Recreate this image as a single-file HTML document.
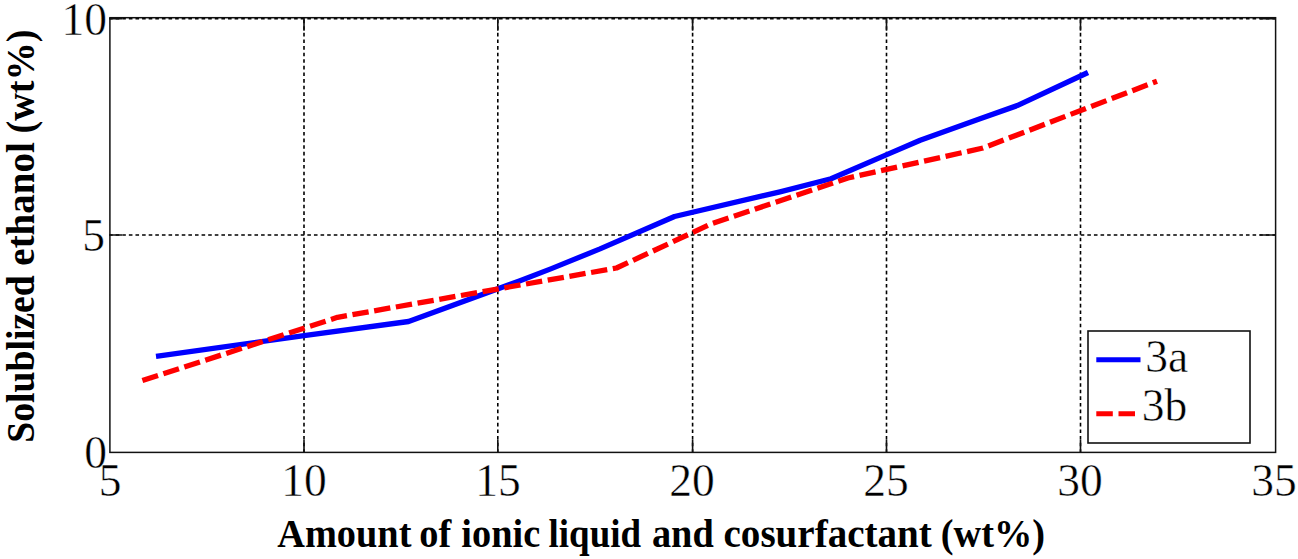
<!DOCTYPE html>
<html><head><meta charset="utf-8"><title>Chart</title>
<style>
html,body{margin:0;padding:0;background:#fff;}
body{width:1298px;height:559px;overflow:hidden;}
svg{display:block;}
text{font-family:"Liberation Serif", serif;fill:#000;}
.tk{font-size:45.5px;stroke:#fff;stroke-width:0.45px;paint-order:fill;}
.lab{font-size:40px;font-weight:bold;}
</style></head><body>
<svg width="1298" height="559" viewBox="0 0 1298 559">
<rect x="0" y="0" width="1298" height="559" fill="#fff"/>
<!-- grid -->
<g stroke="#000" stroke-width="1.6" stroke-dasharray="3.6 3.01" fill="none">
<line x1="304" y1="19.6" x2="304" y2="452.4"/>
<line x1="497.8" y1="19.6" x2="497.8" y2="452.4"/>
<line x1="692.6" y1="19.6" x2="692.6" y2="452.4"/>
<line x1="886.5" y1="19.6" x2="886.5" y2="452.4"/>
<line x1="1080.5" y1="19.6" x2="1080.5" y2="452.4"/>
<line x1="109.03" y1="235" x2="1275.6" y2="235"/>
<line x1="109.03" y1="18.8" x2="1275.6" y2="18.8"/>
</g>
<!-- ticks -->
<g stroke="#111" stroke-width="1.6" fill="none">
<path d="M304 452.4V440M497.8 452.4V440M692.6 452.4V440M886.5 452.4V440M1080.5 452.4V440"/>
<path d="M304 17.7V30.7M497.8 17.7V30.7M692.6 17.7V30.7M886.5 17.7V30.7M1080.5 17.7V30.7"/>
<path d="M109.9 235H122M1275.6 235H1260M109.9 18.8H122M1275.6 18.8H1260"/>
</g>
<!-- axes box -->
<rect x="109.9" y="17.7" width="1165.7" height="434.7" fill="none" stroke="#111" stroke-width="1.5"/>
<!-- data -->
<polyline fill="none" stroke="#0000ff" stroke-width="5.3" stroke-linejoin="round" stroke-linecap="butt"
 points="156,356.3 304,335.6 408.6,321.5 520,280.7 551.4,268.6 600,248.9 674.5,216.5 780,191.8 831,178.8 886.8,154.6 920.2,140.3 980,118.8 1017.2,105.6 1088,72.5"/>
<polyline fill="none" stroke="#ff0000" stroke-width="5.3" stroke-linejoin="round" stroke-linecap="butt" stroke-dasharray="16.4 5.63"
 points="142.4,380.6 337.5,317.3 616.5,268 712,223.5 848,178 983,148 1157,81.2"/>
<!-- legend -->
<rect x="1088" y="331" width="162" height="112" fill="#fff" stroke="#111" stroke-width="1.6"/>
<line x1="1096.3" y1="359.8" x2="1140.5" y2="359.8" stroke="#0000ff" stroke-width="5"/>
<line x1="1096.3" y1="413.7" x2="1135" y2="413.7" stroke="#ff0000" stroke-width="5" stroke-dasharray="16.5 5.7"/>
<text class="tk" x="1145.2" y="372">3a</text>
<text class="tk" x="1141.8" y="420.5">3b</text>
<!-- tick labels -->
<g class="tk" text-anchor="middle">
<text x="110" y="495.5">5</text>
<text x="304" y="495.5">10</text>
<text x="498" y="495.5">15</text>
<text x="692" y="495.5">20</text>
<text x="886" y="495.5">25</text>
<text x="1080" y="495.5">30</text>
<text x="1274" y="495.5">35</text>
</g>
<g class="tk" text-anchor="end">
<text x="107" y="35">10</text>
<text x="105" y="251">5</text>
<text x="107" y="468">0</text>
</g>
<text class="lab" transform="translate(277.2,546.6) scale(0.959,1)" x="0" y="0">Amount <tspan dx="-1.88">of</tspan> <tspan dx="0.63">ionic</tspan> <tspan dx="-1.25" textLength="96.4" lengthAdjust="spacingAndGlyphs">liquid</tspan> <tspan dx="1.35">and</tspan> <tspan dx="0.21" textLength="217.2" lengthAdjust="spacingAndGlyphs">cosurfactant</tspan> <tspan dx="-0.7">(wt%)</tspan></text>
<text class="lab" transform="translate(33.5,442.8) rotate(-90) scale(0.956,1)" x="0" y="0"><tspan textLength="175.3" lengthAdjust="spacingAndGlyphs">Solublized</tspan> <tspan textLength="129.1" lengthAdjust="spacingAndGlyphs">ethanol</tspan> <tspan dx="-0.95">(wt%)</tspan></text>
</svg>
</body></html>
